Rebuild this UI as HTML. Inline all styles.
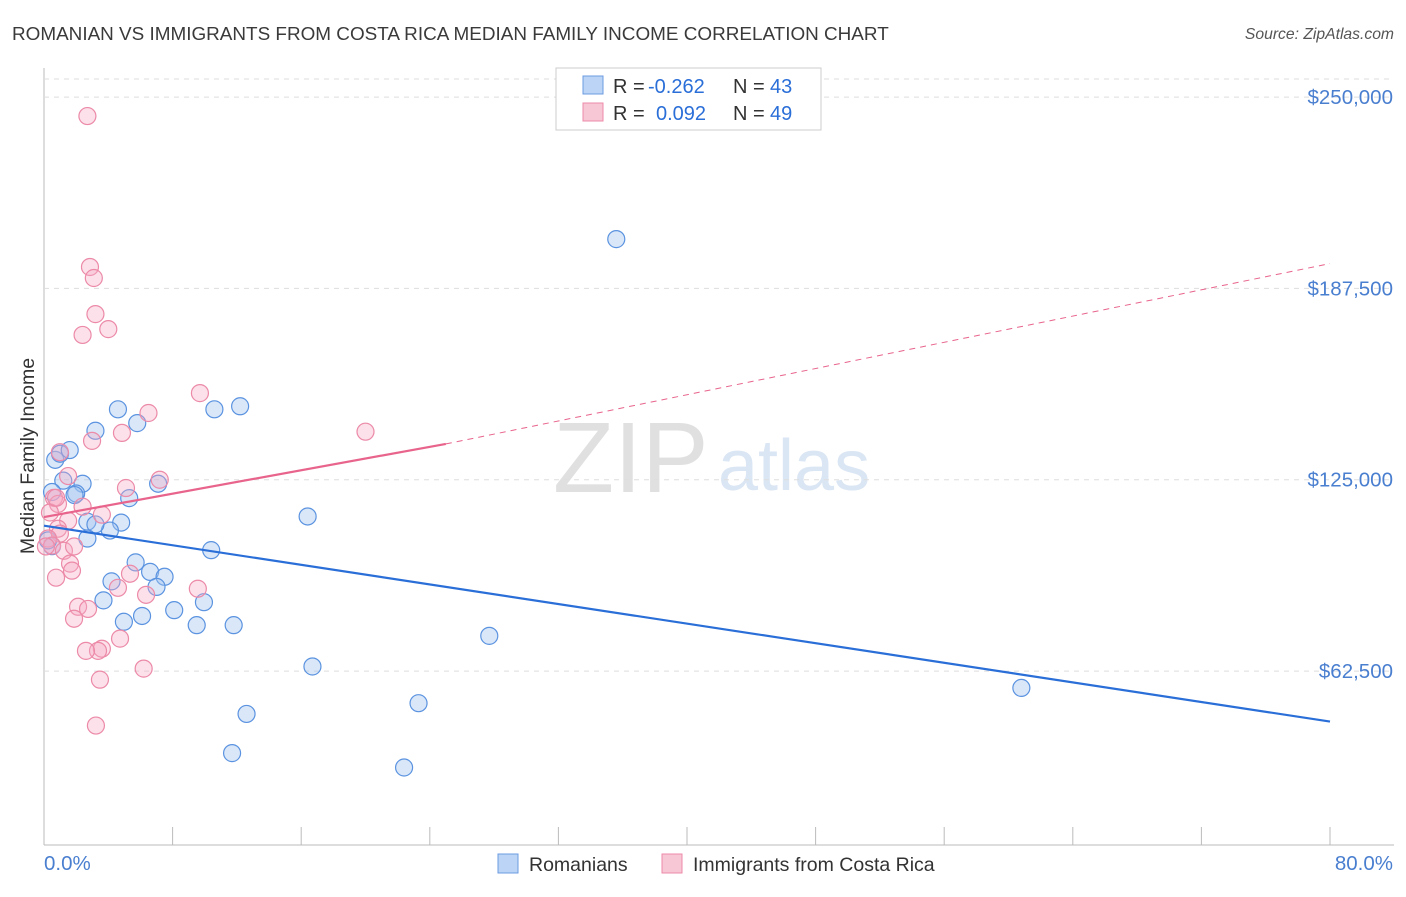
<!DOCTYPE html>
<html><head><meta charset="utf-8"><style>
body{margin:0;background:#fff;font-family:"Liberation Sans",sans-serif}
svg text{font-family:"Liberation Sans",sans-serif}
</style></head><body>
<svg id="c" width="1406" height="892">
<text x="12" y="40" font-size="18.9" fill="#3a3a3a">ROMANIAN VS IMMIGRANTS FROM COSTA RICA MEDIAN FAMILY INCOME CORRELATION CHART</text>
<text x="1394" y="39" font-size="15.7" fill="#555" font-style="italic" text-anchor="end">Source: ZipAtlas.com</text>
<text x="34" y="456" font-size="19.5" fill="#333" text-anchor="middle" transform="rotate(-90 34 456)">Median Family Income</text>
<text x="553" y="492" font-size="100" fill="#e0e0e0" font-family="Liberation Serif">ZIP</text>
<text x="718" y="490" font-size="72" fill="#dbe6f4">atlas</text>
<g id="grid"></g><g id="marks"></g>
<g>
<rect x="556" y="68" width="265" height="62" fill="#fff" stroke="#ccc"/>
<rect x="583" y="76" width="20" height="18" fill="#bcd4f5" stroke="#6a9be0"/>
<rect x="583" y="103" width="20" height="18" fill="#f8c7d5" stroke="#ec8aa8"/>
<text x="613" y="93" font-size="20" fill="#333">R =</text>
<text x="648" y="93" font-size="20" fill="#2a6ed8">-0.262</text>
<text x="733" y="93" font-size="20" fill="#333">N =</text>
<text x="770" y="93" font-size="20" fill="#2a6ed8">43</text>
<text x="613" y="120" font-size="20" fill="#333">R =</text>
<text x="656" y="120" font-size="20" fill="#2a6ed8">0.092</text>
<text x="733" y="120" font-size="20" fill="#333">N =</text>
<text x="770" y="120" font-size="20" fill="#2a6ed8">49</text>
</g>
<g>
<rect x="498" y="854" width="20" height="19" fill="#bcd4f5" stroke="#6a9be0"/>
<text x="529" y="871" font-size="19.5" fill="#333">Romanians</text>
<rect x="662" y="854" width="20" height="19" fill="#f8c7d5" stroke="#ec8aa8"/>
<text x="693" y="871" font-size="19.5" fill="#333">Immigrants from Costa Rica</text>
</g>
<text x="44" y="870" font-size="20.5" fill="#4a7fd0">0.0%</text>
<text x="1393" y="870" font-size="20.5" fill="#4a7fd0" text-anchor="end">80.0%</text>
</svg>
<script>
const yTicks=[62500,125000,187500,250000];
const yTickLabels=["$62,500","$125,000","$187,500","$250,000"];
const romX=[35.6,60.8,27.7,22.4,23.3,16.7,16.4,12.2,10.6,10.4,11.8,12.6,11.7,4.6,5.8,3.2,0.7,1.0,1.6,1.2,2.4,2.0,0.5,1.9,2.7,4.8,4.1,5.3,7.1,3.2,2.7,5.7,4.2,3.7,6.6,7.5,7.0,4.97,6.1,8.1,9.5,9.95,0.5,0.25];
const romY=[203600,57000,74000,31000,52000,64000,113000,149000,148000,102000,77500,48500,35700,148000,143500,141000,131500,133500,134700,124700,123700,120500,121000,120000,111300,111000,108400,119000,123700,110400,105800,98000,91800,85600,94900,93300,90000,78600,80500,82400,77500,85000,103300,105200];
const crX=[2.7,2.86,3.1,3.2,4.0,2.4,9.7,6.5,4.85,2.99,20.0,0.99,1.5,7.2,5.1,0.62,0.87,2.4,3.6,1.5,0.87,0.99,0.25,0.5,1.24,0.12,1.87,1.62,1.74,0.75,5.35,9.57,4.6,6.35,2.12,2.74,1.87,4.73,3.6,3.36,2.61,6.2,3.48,3.23,0.37,0.75];
const crY=[243800,194500,190900,179100,174200,172300,153300,146800,140300,137700,140700,134000,126200,125000,122300,119100,117100,116200,113600,111600,109000,107400,105800,103500,101800,103200,103200,97600,95300,93000,94300,89400,89700,87400,83500,82800,79600,73100,69800,69100,69100,63300,59700,44700,114300,119100];
const romTrend=[[0,110000],[80,46000]];
const crTrend=[[0,112800],[25,136700],[80,195600]];
const X=v=>44+v*16.075, Y=v=>862.4-v*0.0030613;
const ns="http://www.w3.org/2000/svg";
function mk(t,a,p){const e=document.createElementNS(ns,t);for(const k in a)e.setAttribute(k,a[k]);p.appendChild(e);return e;}
const g=document.getElementById('grid'),m=document.getElementById('marks');
mk('line',{x1:44,y1:68,x2:44,y2:845,stroke:'#bbb'},g);
mk('line',{x1:44,y1:845,x2:1394,y2:845,stroke:'#bbb'},g);
yTicks.forEach((t,i)=>{
 const l=mk('line',{x1:44,y1:Y(t),x2:1394,y2:Y(t),stroke:'#ddd','stroke-dasharray':'5,5'},g);
 
 
 const tx=mk('text',{x:1393,y:Y(t)+7,'font-size':20.5,fill:'#4a7fd0','text-anchor':'end'},g);tx.textContent=yTickLabels[i];
 
 
});
mk('line',{x1:44,y1:79,x2:1394,y2:79,stroke:'#ddd','stroke-dasharray':'5,5'},g);
for(let i=0;i<=10;i++){const x=44+i*128.6;const l=mk('line',{x1:x,y1:827,x2:x,y2:845,stroke:'#bbb'},g);
 
 }
romX.forEach((v,i)=>{const c=mk('circle',{cx:X(v),cy:Y(romY[i]),r:8.5,fill:'rgba(160,195,240,0.4)',stroke:'#5b93e0','stroke-width':1.2},m);
 
 });
crX.forEach((v,i)=>{const c=mk('circle',{cx:X(v),cy:Y(crY[i]),r:8.5,fill:'rgba(245,170,195,0.35)',stroke:'#ec8aa8','stroke-width':1.2},m);
 
 });
let l=mk('line',{x1:X(romTrend[0][0]),y1:Y(romTrend[0][1]),x2:X(romTrend[1][0]),y2:Y(romTrend[1][1]),stroke:'#2a6ed8','stroke-width':2.2},m);


l=mk('line',{x1:X(crTrend[0][0]),y1:Y(crTrend[0][1]),x2:X(crTrend[1][0]),y2:Y(crTrend[1][1]),stroke:'#e8648c','stroke-width':2.2},m);


l=mk('line',{x1:X(crTrend[1][0]),y1:Y(crTrend[1][1]),x2:X(crTrend[2][0]),y2:Y(crTrend[2][1]),stroke:'#e8648c','stroke-width':1,'stroke-dasharray':'6,5'},m);


</script>
</body></html>
